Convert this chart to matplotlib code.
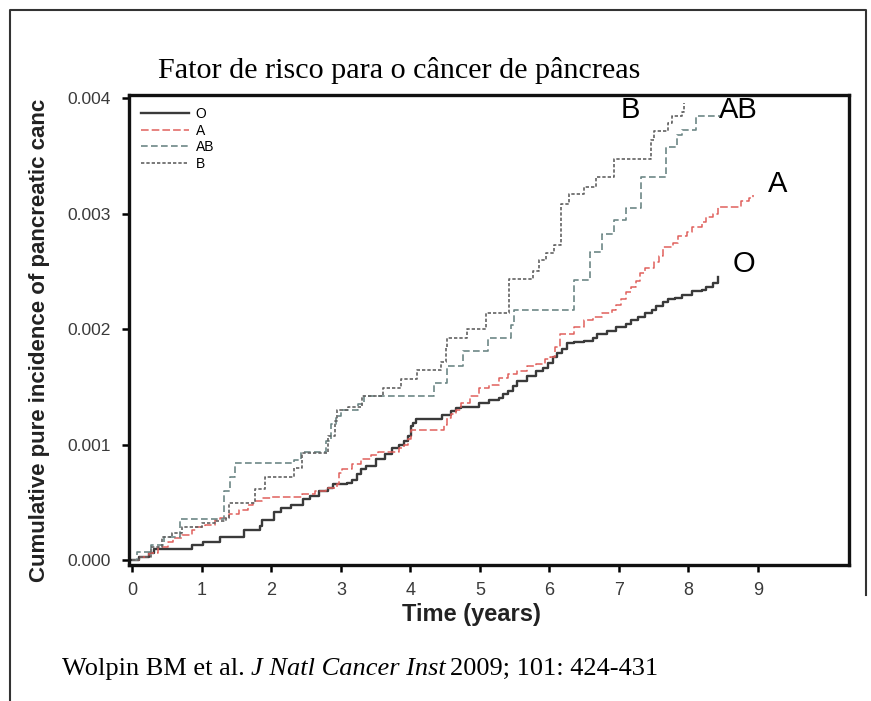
import matplotlib
matplotlib.use("Agg")
import matplotlib.pyplot as plt
from matplotlib.lines import Line2D
import numpy as np

# ---------------- data (cumulative incidence, step functions) ----------------
o_t = [0.0, 0.10, 0.24, 0.31, 0.85, 1.02, 1.26, 1.60, 1.83, 1.87, 2.04, 2.14, 2.28, 2.45, 2.55,
       2.68, 2.82, 2.89, 3.09, 3.16, 3.23, 3.29, 3.36, 3.50, 3.63, 3.74, 3.84, 3.91, 3.97, 4.01,
       4.04, 4.08, 4.45, 4.59, 4.65, 4.72, 4.99, 5.13, 5.27, 5.33, 5.40, 5.47, 5.54, 5.67, 5.81,
       5.91, 5.98, 6.05, 6.11, 6.18, 6.25, 6.35, 6.49, 6.62, 6.69, 6.83, 6.96, 7.10, 7.17, 7.27,
       7.37, 7.47, 7.54, 7.64, 7.71, 7.81, 7.91, 8.05, 8.19, 8.25, 8.36, 8.42]
o_v = [0.0, 0.03, 0.06, 0.10, 0.13, 0.16, 0.20, 0.26, 0.30, 0.35, 0.42, 0.45, 0.48, 0.53, 0.56,
       0.60, 0.63, 0.66, 0.67, 0.70, 0.75, 0.79, 0.82, 0.88, 0.92, 0.97, 1.00, 1.03, 1.08, 1.16,
       1.19, 1.22, 1.26, 1.29, 1.32, 1.33, 1.36, 1.39, 1.41, 1.44, 1.47, 1.51, 1.55, 1.60, 1.64,
       1.67, 1.71, 1.76, 1.80, 1.83, 1.88, 1.89, 1.90, 1.93, 1.96, 1.99, 2.02, 2.05, 2.08, 2.11,
       2.14, 2.17, 2.20, 2.24, 2.26, 2.27, 2.30, 2.33, 2.34, 2.37, 2.40, 2.45]

a_t = [0.0, 0.10, 0.24, 0.37, 0.51, 0.58, 0.71, 0.85, 0.92, 1.05, 1.19, 1.26, 1.39, 1.53, 1.66,
       1.73, 1.87, 2.01, 2.44, 2.63, 2.78, 2.94, 2.97, 3.02, 3.16, 3.29, 3.43, 3.53, 3.84, 3.91,
       3.97, 4.01, 4.48, 4.52, 4.59, 4.65, 4.72, 4.86, 4.99, 5.13, 5.27, 5.40, 5.54, 5.67, 5.81,
       5.94, 6.01, 6.08, 6.15, 6.35, 6.49, 6.62, 6.76, 6.90, 6.96, 7.03, 7.10, 7.17, 7.24, 7.30,
       7.37, 7.51, 7.57, 7.64, 7.78, 7.85, 7.98, 8.05, 8.19, 8.25, 8.36, 8.42, 8.76, 8.87, 8.93]
a_v = [0.0, 0.03, 0.06, 0.12, 0.16, 0.19, 0.22, 0.26, 0.29, 0.31, 0.35, 0.37, 0.40, 0.44, 0.48,
       0.51, 0.54, 0.55, 0.575, 0.60, 0.63, 0.66, 0.76, 0.79, 0.835, 0.88, 0.91, 0.94, 0.97, 1.00,
       1.055, 1.13, 1.17, 1.23, 1.27, 1.30, 1.36, 1.42, 1.49, 1.52, 1.58, 1.61, 1.64, 1.68, 1.70,
       1.74, 1.76, 1.85, 1.96, 2.02, 2.08, 2.11, 2.14, 2.17, 2.21, 2.26, 2.32, 2.37, 2.42, 2.49,
       2.53, 2.58, 2.64, 2.71, 2.75, 2.81, 2.84, 2.89, 2.93, 2.97, 3.00, 3.06, 3.11, 3.14, 3.16]

ab_t = [0.0, 0.06, 0.26, 0.45, 0.68, 1.32, 1.40, 1.48, 2.33, 2.42, 2.78, 2.85, 2.93, 3.00, 3.24,
        3.33, 4.34, 4.53, 4.75, 5.11, 5.44, 5.49, 6.35, 6.58, 6.76, 6.93, 7.10, 7.32, 7.68, 7.83,
        7.90, 8.11, 8.46]
ab_v = [0.0, 0.07, 0.13, 0.20, 0.36, 0.60, 0.72, 0.84, 0.87, 0.94, 1.03, 1.18, 1.25, 1.30, 1.35,
        1.42, 1.54, 1.68, 1.81, 1.93, 2.04, 2.17, 2.43, 2.67, 2.83, 2.95, 3.05, 3.32, 3.58, 3.68,
        3.73, 3.85, 3.85]

b_t = [0.0, 0.10, 0.26, 0.43, 0.57, 0.71, 1.00, 1.19, 1.34, 1.39, 1.77, 1.91, 2.32, 2.44, 2.82,
       2.92, 2.95, 3.10, 3.30, 3.60, 3.86, 4.10, 4.44, 4.51, 4.53, 4.82, 5.08, 5.42, 5.76, 5.85,
       5.95, 6.07, 6.16, 6.28, 6.50, 6.67, 6.93, 7.46, 7.50, 7.70, 7.77, 7.91, 7.93]
b_v = [0.0, 0.03, 0.115, 0.20, 0.24, 0.29, 0.32, 0.34, 0.37, 0.50, 0.62, 0.72, 0.80, 0.93, 1.08,
       1.21, 1.30, 1.33, 1.42, 1.49, 1.57, 1.65, 1.72, 1.84, 1.93, 2.00, 2.14, 2.44, 2.51, 2.60,
       2.66, 2.73, 3.09, 3.17, 3.23, 3.32, 3.48, 3.64, 3.72, 3.79, 3.85, 3.88, 3.96]

x_ticks = [0, 1, 2, 3, 4, 5, 6, 7, 8, 9]
y_ticks = [0.000, 0.001, 0.002, 0.003, 0.004]
y_tick_labels = ["0.000", "0.001", "0.002", "0.003", "0.004"]

series = [
    ("O", o_t, o_v),
    ("A", a_t, a_v),
    ("AB", ab_t, ab_v),
    ("B", b_t, b_v),
]
end_labels = {"B": (7.16, 0.00390), "AB": (8.72, 0.00390), "A": (9.28, 0.00326), "O": (8.80, 0.00257)}

title = "Fator de risco para o câncer de pâncreas"
xlabel = "Time (years)"
ylabel = "Cumulative pure incidence of pancreatic canc"

# ---------------- styles ----------------
styles = {
    "O":  dict(color="#3a3a3a", lw=1.7, ls="-"),
    "A":  dict(color="#e0605c", lw=1.1, ls=(0, (5, 2))),
    "AB": dict(color="#6d8786", lw=1.2, ls=(0, (4, 2))),
    "B":  dict(color="#626262", lw=1.2, ls=(0, (2, 1.2))),
}

W, H = 871, 701
fig = plt.figure(figsize=(W / 100, H / 100), dpi=100)
fig.patch.set_facecolor("white")

ax = fig.add_axes([129 / W, 1 - 565 / H, 720 / W, 470 / H])

for name, t, v in series:
    st = styles[name]
    ax.step(t, np.array(v) * 1e-3, where="post", label=name,
            color=st["color"], lw=st["lw"], ls=st["ls"])

for name, (lx, ly) in end_labels.items():
    ax.text(lx, ly, name, fontsize=21, family="Liberation Sans", color="black",
            ha="center", va="center")

ax.set_xlim(-0.05, 10.31)
ax.set_ylim(-0.00004, 0.00403)
ax.set_xticks(x_ticks)
ax.set_yticks(y_ticks)
ax.set_yticklabels(y_tick_labels)
for lab in ax.get_xticklabels() + ax.get_yticklabels():
    lab.set_family("Liberation Sans")
    lab.set_color("#3a3a3a")
ax.tick_params(axis="x", labelsize=13, length=5, width=1.8, direction="out", pad=7)
ax.tick_params(axis="y", labelsize=12.5, length=5, width=1.8, direction="out", pad=8)
for sp in ax.spines.values():
    sp.set_linewidth(2.4)
    sp.set_color("#111111")

leg = ax.legend(loc="upper left", frameon=False, handlelength=3.5,
                handletextpad=0.45, labelspacing=0.2, borderaxespad=0.45,
                prop={"family": "Liberation Sans", "size": 10})

fig.text(158 / W, 1 - 71 / H, title, family="Liberation Serif", fontsize=21.7,
         ha="left", va="center")
fig.text(471 / W, 1 - 615 / H, xlabel, family="Liberation Sans", fontweight="bold",
         fontsize=17, ha="center", va="center", color="#222222")
fig.text(40 / W, 1 - 340 / H, ylabel, family="Liberation Sans", fontweight="bold",
         fontsize=16, ha="center", va="center", rotation=90, color="#222222")

cy = 1 - 669 / H
cit = fig.text(62 / W, cy, "Wolpin BM et al. ", family="Liberation Serif",
               fontsize=19, ha="left", va="center")
fig.canvas.draw()
r = fig.canvas.get_renderer()
bb = cit.get_window_extent(r)
cit2 = fig.text(bb.x1 / W, cy, "J Natl Cancer Inst", family="Liberation Serif",
                style="italic", fontsize=19, ha="left", va="center")
bb2 = cit2.get_window_extent(r)
fig.text(bb2.x1 / W + 0.005, cy, "2009; 101: 424-431", family="Liberation Serif",
         fontsize=19, ha="left", va="center")

# outer frame
fig.add_artist(Line2D([10 / W, 10 / W, 866 / W, 866 / W], [0, 1 - 10 / H, 1 - 10 / H, 1 - 595 / H],
                      transform=fig.transFigure, color="#333333", lw=1.5))

fig.savefig("out.png", dpi=100)
